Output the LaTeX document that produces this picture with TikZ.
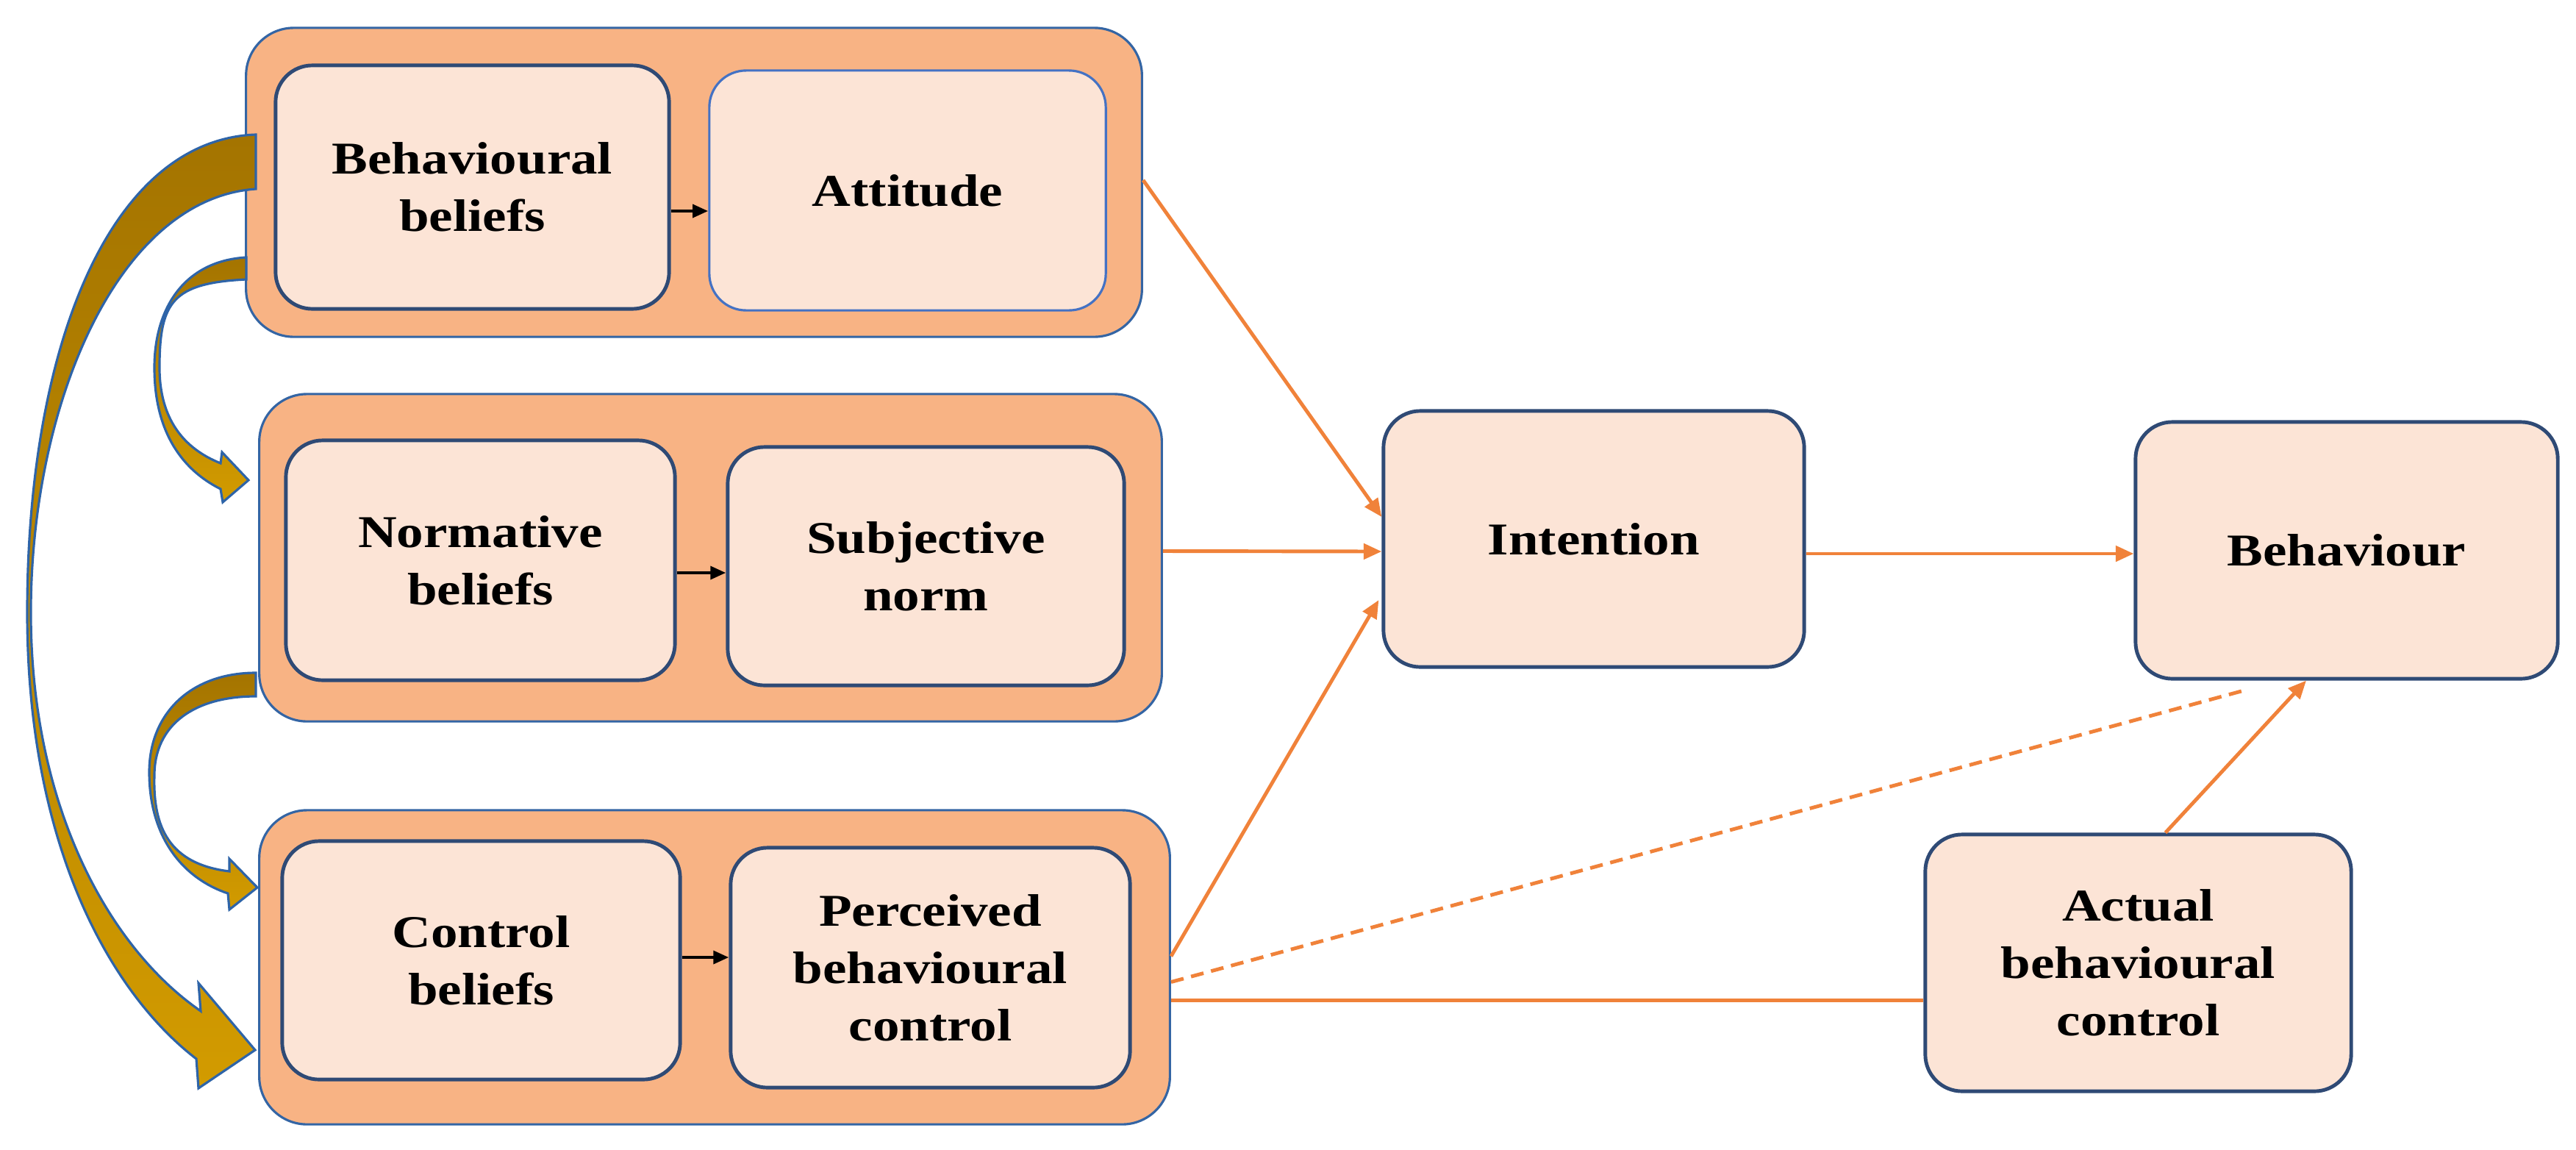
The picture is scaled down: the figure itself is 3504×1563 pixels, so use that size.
\documentclass[tikz,border=0pt]{standalone}
\usepackage{fontspec}
\setmainfont{Liberation Serif}[FakeStretch=1.18]
\usetikzlibrary{arrows.meta,calc}
\definecolor{grpfill}{HTML}{F8B384}
\definecolor{boxfill}{HTML}{FCE4D6}
\definecolor{navy}{HTML}{2F4A75}
\definecolor{grpline}{HTML}{3465A4}
\definecolor{lightblue}{HTML}{4472C4}
\definecolor{orng}{HTML}{F0823A}
\definecolor{goldtop}{HTML}{A47400}
\definecolor{goldbot}{HTML}{D29B00}
\definecolor{arrline}{HTML}{2E64A8}
\begin{document}
\begin{tikzpicture}[x=0.01cm,y=-0.01cm,
  grp/.style={draw=grpline, line width=0.9pt, fill=grpfill, rounded corners=0.65cm},
  box/.style={draw=navy, line width=1.4pt, fill=boxfill, rounded corners=0.5cm, align=center,
    font=\fontsize{17.6pt}{22.2pt}\selectfont\bfseries, inner sep=0pt},
  oline/.style={draw=orng, line width=1.4pt},
  otip/.style={-{Triangle[length=7pt,width=6pt]}},
  btip/.style={-{Triangle[length=6pt,width=5pt]}, line width=1.3pt, black},
  curved/.style={draw=arrline, line width=0.9pt, line join=miter, top color=goldtop, bottom color=goldbot}]
\useasboundingbox (0,0) rectangle (3504,1563);
% groups
\node[grp, minimum width=12.18cm, minimum height=4.2cm] (G1) at (944,248) {};
\node[grp, minimum width=12.27cm, minimum height=4.45cm] (G2) at (966.5,758.5) {};
\node[grp, minimum width=12.38cm, minimum height=4.27cm] (G3) at (972,1315.5) {};
% inner boxes
\node[box, minimum width=5.35cm, minimum height=3.31cm] (BB) at (642.5,254.5) {Behavioural\\beliefs};
\node[box, draw=lightblue, line width=0.9pt, minimum width=5.39cm, minimum height=3.26cm] (AT) at (1234.5,259) {Attitude};
\node[box, minimum width=5.29cm, minimum height=3.26cm] (NB) at (653.5,762) {Normative\\beliefs};
\node[box, minimum width=5.39cm, minimum height=3.24cm] (SN) at (1259.5,770) {Subjective\\norm};
\node[box, minimum width=5.41cm, minimum height=3.24cm] (CB) at (654.5,1306) {Control\\beliefs};
\node[box, minimum width=5.43cm, minimum height=3.26cm] (PB) at (1265.5,1316) {Perceived\\behavioural\\control};
\node[box, minimum width=5.72cm, minimum height=3.48cm] (IN) at (2168,733) {Intention};
\node[box, minimum width=5.74cm, minimum height=3.49cm] (BE) at (3192,748.5) {Behaviour};
\node[box, minimum width=5.79cm, minimum height=3.49cm] (AC) at (2908.5,1309.5) {Actual\\behavioural\\control};
% small black arrows
\draw[btip] ($(BB.east)+(0,32.5)$) -- ($(AT.west)+(0,28)$);
\draw[btip] ($(NB.east)+(0,17)$) -- ($(SN.west)+(0,9)$);
\draw[btip] ($(CB.east)+(0,-4)$) -- ($(PB.west)+(0,-14)$);
% orange connectors
\draw[oline,otip] ($(G1.east)+(0,-3)$) -- ($(IN.west)+(0,-30)$);
\draw[oline,otip] ($(G2.east)+(0,-9)$) -- ($(IN.west)+(0,17)$);
\draw[oline,otip] ($(G3.east)+(0,-15)$) -- ($(IN.west)+(-4,83)$);
\draw[oline,dash pattern=on 5pt off 3pt] ($(G3.east)+(0,20)$) -- ($(BE.south)+(-138,13)$);
\draw[oline] ($(G3.east)+(0,45)$) -- ($(AC.west)+(0,51)$);
\draw[oline,otip] ($(IN.east)+(0,20)$) -- ($(BE.west)+(0,4.5)$);
\draw[oline,otip] ($(AC.north)+(37,0)$) -- ($(BE.south)+(-55,0)$);
% curved block arrows
\path[curved] (348,183) .. controls (150,190) and (37,470) .. (37,833)
  .. controls (37,1150) and (150,1350) .. (267,1440)
  -- (270,1480) -- (347,1428) -- (270,1337) -- (273,1375)
  .. controls (150,1290) and (42,1100) .. (42,833)
  .. controls (42,550) and (160,270) .. (348,257) -- cycle;
\path[curved] (335,350) .. controls (250,355) and (210,420) .. (210,500)
  .. controls (210,590) and (250,640) .. (300,665)
  -- (303,683) -- (338,653) -- (302,615) -- (300,630)
  .. controls (250,610) and (217,570) .. (217,500)
  .. controls (217,410) and (235,385) .. (335,380) -- cycle;
\path[curved] (348,915) .. controls (260,915) and (203,970) .. (203,1050)
  .. controls (203,1140) and (250,1195) .. (310,1215)
  -- (312,1237) -- (350,1207) -- (312,1168) -- (312,1185)
  .. controls (230,1175) and (208,1125) .. (210,1055)
  .. controls (210,985) and (265,947) .. (348,947) -- cycle;
\end{tikzpicture}
\end{document}
